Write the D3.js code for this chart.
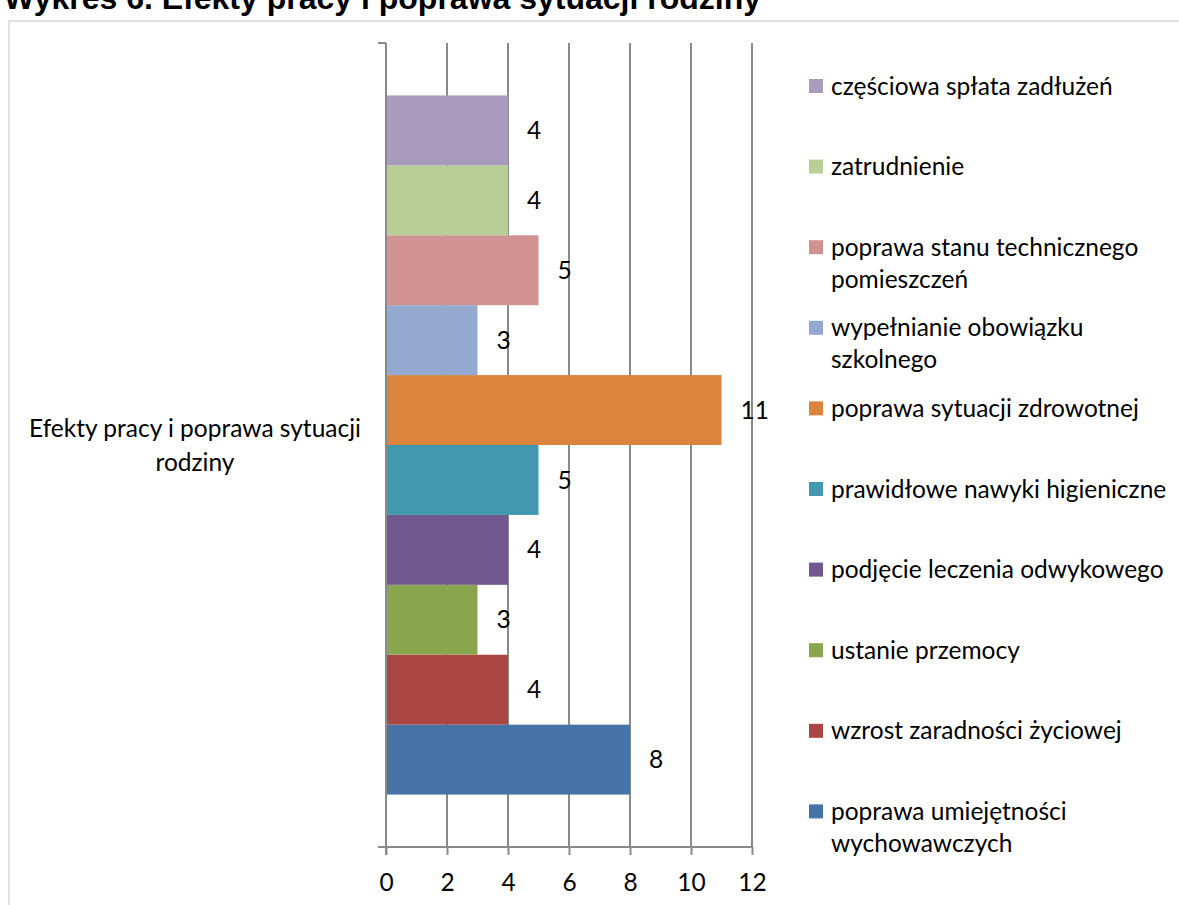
<!DOCTYPE html>
<html><head><meta charset="utf-8">
<script src="https://cdn.jsdelivr.net/npm/d3@7"></script>
<style>body{margin:0;background:#fff} svg{display:block}</style>
</head><body><svg id="c" width="1179" height="905"></svg>
<script>
const title = "Wykres 6. Efekty pracy i poprawa sytuacji rodziny";
const categories = ["Efekty pracy i poprawa sytuacji rodziny"];
const seriesNames = ["poprawa umiejętności wychowawczych","wzrost zaradności życiowej","ustanie przemocy","podjęcie leczenia odwykowego","prawidłowe nawyki higieniczne","poprawa sytuacji zdrowotnej","wypełnianie obowiązku szkolnego","poprawa stanu technicznego pomieszczeń","zatrudnienie","częściowa spłata zadłużeń"];
const seriesValues = [8,4,3,4,5,11,3,5,4,4];
const seriesColors = ["#4572A7","#AA4643","#89A54E","#71588F","#4198AF","#DB843D","#93A9CF","#D19392","#B9CD96","#A99BBD"];
const xTicks = [0,2,4,6,8,10,12];

const FONT = "Lato, 'Open Sans', sans-serif";
const FS = 24.5;
const svg = d3.select("#c");

// frame
svg.append("rect").attr("x",9).attr("y",21).attr("width",1300).attr("height",1000)
  .attr("fill","#fff").attr("stroke","#d9d9d9").attr("stroke-width",1.5);

// title (cropped at top, as in the reference)
svg.append("text").attr("x",4).attr("y",8.5).text(title)
  .attr("font-family","'Liberation Sans', Arial, sans-serif").attr("font-weight","bold")
  .attr("font-size",32).attr("fill","#000");

const plotTop = 43, plotBottom = 847, plotLeft = 386, plotRight = 752;
const x = d3.scaleLinear().domain([0,12]).range([plotLeft, plotRight]);
const y0 = d3.scaleBand().domain(categories).range([plotBottom, plotTop]).paddingInner(0).paddingOuter(0.075);
const y1 = d3.scaleBand().domain(d3.range(seriesNames.length).reverse()).range([0, y0.bandwidth()]);

const grid = "#8a8a8a";
// gridlines
svg.append("g").selectAll("line").data(xTicks.filter(t=>t>0)).join("line")
  .attr("x1",d=>x(d)).attr("x2",d=>x(d)).attr("y1",plotTop).attr("y2",plotBottom)
  .attr("stroke",grid).attr("stroke-width",2);

// bars
const gBars = svg.append("g").attr("transform",`translate(0,${y0(categories[0])})`);
gBars.selectAll("rect").data(seriesValues).join("rect")
  .attr("x",x(0)).attr("y",(d,i)=>y1(i)).attr("width",d=>x(d)-x(0)).attr("height",y1.bandwidth())
  .attr("fill",(d,i)=>seriesColors[i]);
gBars.selectAll("text").data(seriesValues).join("text")
  .attr("x",d=>x(d)+19).attr("y",(d,i)=>y1(i)+y1.bandwidth()/2).attr("dy","0.35em")
  .attr("font-family",FONT).attr("font-size",FS).attr("fill","#000").text(d=>d);

// x axis
const xAxis = d3.axisBottom(x).tickValues(xTicks).tickSizeInner(8).tickSizeOuter(0).tickPadding(19);
const gx = svg.append("g").attr("transform",`translate(0,${plotBottom})`).call(xAxis);
gx.select(".domain").remove();
gx.selectAll(".tick line").attr("stroke",grid).attr("stroke-width",2);
gx.selectAll(".tick text").attr("font-family",FONT).attr("font-size",FS).attr("fill","#000");
svg.append("line").attr("x1",378).attr("x2",plotRight+1).attr("y1",plotBottom).attr("y2",plotBottom)
  .attr("stroke",grid).attr("stroke-width",2);

// y axis
svg.append("line").attr("x1",plotLeft).attr("x2",plotLeft).attr("y1",plotTop).attr("y2",plotBottom+8)
  .attr("stroke",grid).attr("stroke-width",2);
svg.append("line").attr("x1",378).attr("x2",plotLeft).attr("y1",plotTop).attr("y2",plotTop)
  .attr("stroke",grid).attr("stroke-width",2);

function wrap(textSel, str, maxW){
  const words = str.split(" ");
  const lines = []; let cur = "";
  const tmp = textSel.append("tspan");
  for (const w of words){
    const test = cur ? cur + " " + w : w;
    tmp.text(test);
    if (tmp.node().getComputedTextLength() > maxW && cur){ lines.push(cur); cur = w; }
    else cur = test;
  }
  lines.push(cur); tmp.remove();
  return lines;
}

// category label
const catT = svg.append("text").attr("font-family",FONT).attr("font-size",FS).attr("fill","#000")
  .attr("text-anchor","middle");
const catLines = wrap(catT, categories[0], 345);
const cy = y0(categories[0]) + y0.bandwidth()/2;
catLines.forEach((l,i)=>catT.append("tspan").attr("x",195)
  .attr("y", cy + (i - (catLines.length-1)/2)*34).attr("dy","0.35em").text(l));

// legend
const legendOrder = d3.range(seriesNames.length).reverse();
const lg = svg.append("g");
legendOrder.forEach((si,k)=>{
  const yc = 86 + k*80.6;
  lg.append("rect").attr("x",809).attr("y",yc-7).attr("width",14).attr("height",14).attr("fill",seriesColors[si]);
  const t = lg.append("text").attr("font-family",FONT).attr("font-size",FS).attr("fill","#000");
  const lines = wrap(t, seriesNames[si], 345);
  lines.forEach((l,i)=>t.append("tspan").attr("x",831).attr("y",yc+i*32).attr("dy","0.35em").text(l));
});
</script></body></html>
